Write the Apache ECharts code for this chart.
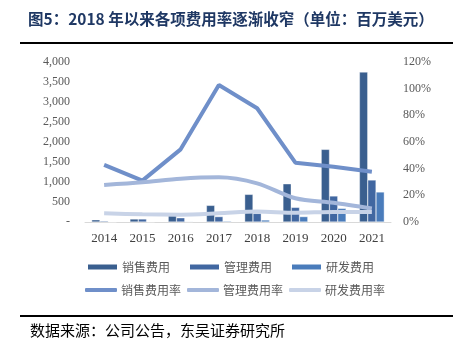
<!DOCTYPE html>
<html>
<head>
<meta charset="utf-8">
<script src="https://cdn.jsdelivr.net/npm/echarts@6/dist/echarts.min.js"></script>
<style>
  html, body { margin: 0; padding: 0; background: #fff; }
  #chart { width: 461px; height: 351px; }
</style>
</head>
<body>
<div id="chart"></div>
<script>
// 年份
const years = ['2014', '2015', '2016', '2017', '2018', '2019', '2020', '2021'];
// 费用（百万美元）
const salesCost = [55, 75, 160, 415, 690, 955, 1815, 3750];
const adminCost = [25, 75, 105, 135, 215, 365, 650, 1050];
const rdCost = [3, 6, 12, 22, 50, 135, 340, 750];
// 费用率（%）
const salesRate = [42.8, 31, 54.5, 102.7, 85.3, 44.5, 41.5, 37.7];
const adminRate = [27.8, 29.8, 32.5, 33.5, 29, 17.8, 14.5, 10.2];
const rdRate = [6.5, 5.8, 5.5, 6.5, 7.8, 7, 7.5, 7.5];

const serif = '"Liberation Serif", "Times New Roman", serif';
const cjk = '"Noto Sans CJK SC", sans-serif';

const myChart = echarts.init(document.getElementById('chart'));
const option = {
  animation: false,
  grid: { left: 85, right: 70, top: 62, bottom: 129 },
  graphic: [
    {
      type: 'text', left: 28, top: 11,
      style: {
        text: '图5：2018 年以来各项费用率逐渐收窄（单位：百万美元）',
        font: 'bold 15.5px ' + cjk, fill: '#1f3864'
      }
    },
    { type: 'rect', shape: { x: 20, y: 42, width: 433, height: 2 }, style: { fill: '#000' } },
    { type: 'rect', shape: { x: 20, y: 315, width: 433, height: 2 }, style: { fill: '#000' } },
    {
      type: 'text', left: 30, top: 323,
      style: { text: '数据来源：公司公告，东吴证券研究所', font: '15px ' + cjk, fill: '#000' }
    }
  ],
  legend: [
    {
      data: ['销售费用', '管理费用', '研发费用'],
      left: 86, top: 261, padding: 0,
      icon: 'rect', itemWidth: 31, itemHeight: 7, itemGap: 18,
      textStyle: { fontFamily: cjk, fontSize: 12, color: '#595959', padding: [0, 0, 0, -1] }
    },
    {
      data: ['销售费用率', '管理费用率', '研发费用率'],
      left: 85, top: 284, padding: 0,
      icon: 'roundRect', itemWidth: 32, itemHeight: 4, itemGap: 6,
      textStyle: { fontFamily: cjk, fontSize: 12, color: '#595959', padding: [0, 0, 0, -1] }
    }
  ],
  xAxis: {
    type: 'category',
    data: years,
    axisLine: { lineStyle: { color: '#d9d9d9', width: 1 } },
    axisTick: { show: false },
    axisLabel: { fontFamily: serif, fontSize: 13, color: '#404040', margin: 10 }
  },
  yAxis: [
    {
      type: 'value', min: 0, max: 4000, interval: 500,
      axisLine: { show: false },
      axisTick: { show: false },
      splitLine: { show: false },
      axisLabel: {
        fontFamily: serif, fontSize: 12, color: '#595959', margin: 15,
        formatter: v => v === 0 ? '-' : v.toLocaleString('en-US')
      }
    },
    {
      type: 'value', min: 0, max: 120, interval: 20,
      axisLine: { show: false },
      axisTick: { show: false },
      splitLine: { show: false },
      axisLabel: {
        fontFamily: serif, fontSize: 12, color: '#595959', margin: 12,
        formatter: '{value}%'
      }
    }
  ],
  series: [
    {
      name: '销售费用', type: 'bar', data: salesCost,
      barGap: '0%', barCategoryGap: '35%',
      itemStyle: { color: '#3a5f8f', borderColor: '#ffffff', borderWidth: 0.4 }
    },
    {
      name: '管理费用', type: 'bar', data: adminCost,
      itemStyle: { color: '#4167a1', borderColor: '#ffffff', borderWidth: 0.4 }
    },
    {
      name: '研发费用', type: 'bar', data: rdCost,
      itemStyle: { color: '#4a7cbb', borderColor: '#ffffff', borderWidth: 0.4 }
    },
    {
      name: '销售费用率', type: 'line', yAxisIndex: 1, data: salesRate,
      symbol: 'none', lineStyle: { width: 4, color: '#6f8fc9' }, itemStyle: { color: '#6f8fc9' }
    },
    {
      name: '管理费用率', type: 'line', yAxisIndex: 1, data: adminRate,
      symbol: 'none', smooth: 0.3, lineStyle: { width: 4, color: '#a3b6da' }, itemStyle: { color: '#a3b6da' }
    },
    {
      name: '研发费用率', type: 'line', yAxisIndex: 1, data: rdRate,
      symbol: 'none', smooth: 0.3, lineStyle: { width: 4, color: '#c8d3e7' }, itemStyle: { color: '#c8d3e7' }
    }
  ]
};
myChart.setOption(option);
</script>
</body>
</html>
